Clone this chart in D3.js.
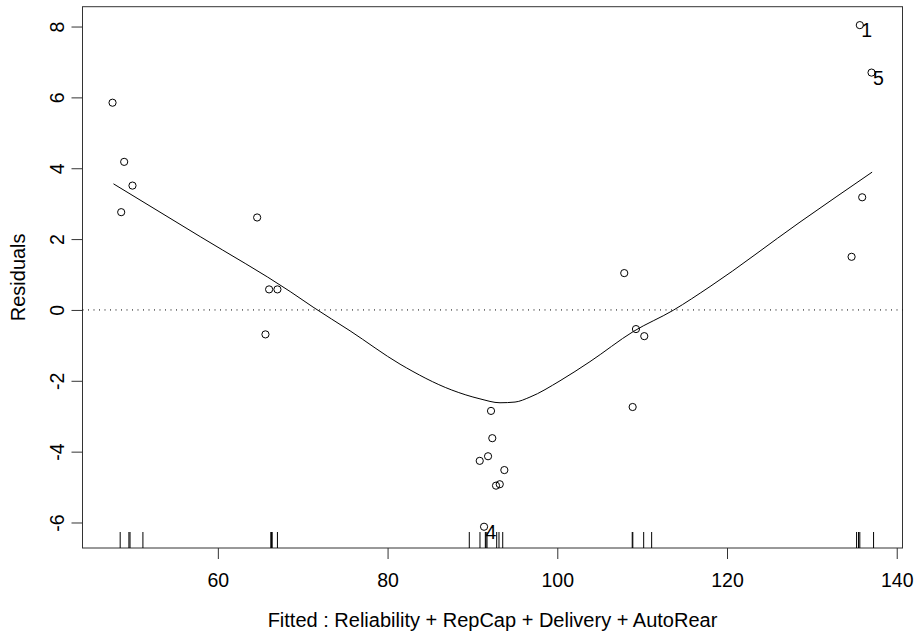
<!DOCTYPE html>
<html>
<head>
<meta charset="utf-8">
<script src="https://cdn.jsdelivr.net/npm/d3@7"></script>
<style>
  html, body { margin: 0; padding: 0; background: #fff; }
  svg text { font-family: "Liberation Sans", Arial, sans-serif; fill: #000; }
</style>
</head>
<body>
<svg id="chart" width="920" height="636"></svg>
<script>
// ---- data ----
const fittedValues = [47.59, 48.96, 49.94, 48.61, 64.63, 66.04, 67.02, 65.61,
  92.19, 92.34, 91.84, 90.86, 93.76, 93.22, 92.78, 91.37,
  107.89, 109.27, 110.25, 108.88, 135.65, 137.03, 135.93, 134.68];
const residualValues = [5.85, 4.18, 3.51, 2.76, 2.61, 0.58, 0.58, -0.69,
  -2.85, -3.62, -4.13, -4.26, -4.52, -4.92, -4.96, -6.12,
  1.04, -0.54, -0.74, -2.74, 8.04, 6.70, 3.18, 1.50];
const pointLabels = ["", "", "", "", "", "", "", "",
  "", "", "", "", "", "", "", "4",
  "", "", "", "", "1", "5", "", ""];
const rugValues = [48.49, 49.52, 49.65, 51.17, 66.24, 66.33, 66.40, 67.02,
  89.63, 90.89, 91.52, 91.60, 91.72, 92.86, 93.13, 93.57,
  108.83, 108.90, 110.18, 111.12, 135.27, 135.50, 135.65, 137.27];
const smoothX = [47.70, 57.92, 68.52, 71.22, 75.58, 81.47, 87.56, 90.89, 93.25,
  95.02, 96.78, 100.32, 103.85, 108.95, 113.66, 118.0, 128.6, 137.1];
const smoothY = [3.56, 2.07, 0.52, 0.08, -0.59, -1.53, -2.26, -2.51, -2.62,
  -2.60, -2.46, -2.00, -1.46, -0.61, -0.01, 0.66, 2.48, 3.89];
const xTicks = [60, 80, 100, 120, 140];
const yTicks = [-6, -4, -2, 0, 2, 4, 6, 8];
const xTitle = "Fitted : Reliability + RepCap + Delivery + AutoRear";
const yTitle = "Residuals";

// ---- layout ----
const svg = d3.select("#chart");
const L = 82.5, R = 902.5, T = 6.7, B = 548;
const x = d3.scaleLinear().domain([44.05, 140.68]).range([L, R]);
const y = d3.scaleLinear().domain([-6.72, 8.56]).range([B, T]);
const fsTick = 19.5, fsTitle = 20;
const fmt = d => String(d);

// box
svg.append("rect").attr("x", L).attr("y", T).attr("width", R - L).attr("height", B - T)
  .attr("fill", "none").attr("stroke", "#333").attr("stroke-width", 1);

// x axis
const xa = svg.append("g").attr("transform", `translate(0,${B})`)
  .call(d3.axisBottom(x).tickValues(xTicks).tickSize(11).tickFormat(fmt));
xa.select(".domain").remove();
xa.selectAll("line").attr("stroke", "#333");
xa.selectAll("text").attr("y", 39).attr("dy", 0)
  .attr("font-size", fsTick).attr("font-family", "Liberation Sans, Arial, sans-serif");

// y axis
const ya = svg.append("g").attr("transform", `translate(${L},0)`)
  .call(d3.axisLeft(y).tickValues(yTicks).tickSize(11).tickFormat(fmt));
ya.select(".domain").remove();
ya.selectAll("line").attr("stroke", "#333");
ya.selectAll("text").remove();
ya.selectAll(".tick").append("text")
  .attr("transform", "translate(-18.5,0) rotate(-90)")
  .attr("text-anchor", "middle")
  .attr("font-size", fsTick)
  .attr("font-family", "Liberation Sans, Arial, sans-serif")
  .attr("fill", "#000")
  .text(fmt);

// titles
svg.append("text").attr("x", (L + R) / 2).attr("y", 627).attr("text-anchor", "middle")
  .attr("font-size", fsTitle).text(xTitle);
svg.append("text").attr("transform", `translate(25,${(T + B) / 2}) rotate(-90)`)
  .attr("text-anchor", "middle").attr("font-size", fsTitle).text(yTitle);

// zero reference line
svg.append("line").attr("x1", L).attr("x2", R).attr("y1", y(0)).attr("y2", y(0))
  .attr("stroke", "#000").attr("stroke-width", 1).attr("stroke-dasharray", "1,4.5");

// rug
svg.append("g").selectAll("line").data(rugValues).join("line")
  .attr("x1", d => x(d)).attr("x2", d => x(d))
  .attr("y1", B).attr("y2", B - 16)
  .attr("stroke", "#000").attr("stroke-width", 1);

// smooth line
const sm = smoothX.map((v, i) => [v, smoothY[i]]);
svg.append("path").datum(sm)
  .attr("d", d3.line().x(d => x(d[0])).y(d => y(d[1])).curve(d3.curveMonotoneX))
  .attr("fill", "none").attr("stroke", "#000").attr("stroke-width", 1);

// points
const pts = fittedValues.map((v, i) => ({ x: v, y: residualValues[i], label: pointLabels[i] }));
svg.append("g").selectAll("circle").data(pts).join("circle")
  .attr("cx", d => x(d.x)).attr("cy", d => y(d.y)).attr("r", 3.6)
  .attr("fill", "none").attr("stroke", "#000").attr("stroke-width", 1);

// point labels
svg.append("g").selectAll("text").data(pts.filter(d => d.label)).join("text")
  .attr("x", d => x(d.x) + 1.5).attr("y", d => y(d.y) + 12)
  .attr("font-size", fsTick).text(d => d.label);
</script>
</body>
</html>
